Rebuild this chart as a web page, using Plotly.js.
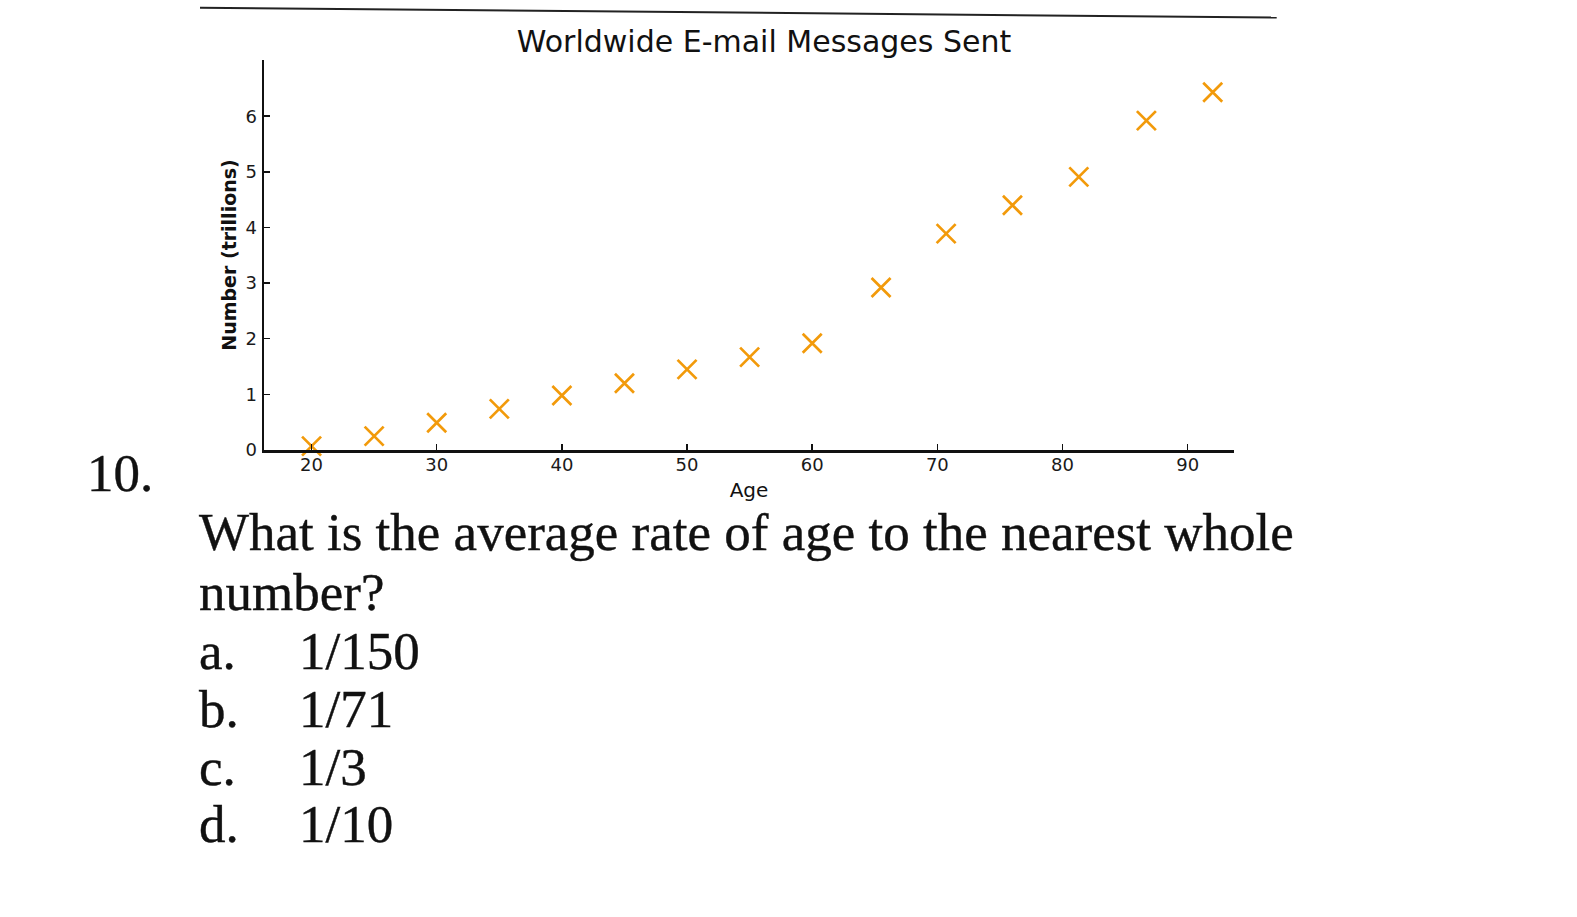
<!DOCTYPE html>
<html>
<head>
<meta charset="utf-8">
<script src="https://cdn.plot.ly/plotly-3.0.1.min.js"></script>
<style>
  html, body { margin:0; padding:0; background:#ffffff; }
  #chart { position:absolute; left:0; top:0; width:1577px; height:917px; }
  .q { position:absolute; font-family:"Liberation Serif","DejaVu Serif",serif; color:#111; font-size:53px; line-height:58px; white-space:nowrap; -webkit-text-stroke:0.4px #111; }
</style>
</head>
<body>
<div id="chart"></div>
<div class="q" style="left:87px; top:444px;">10.</div>
<div class="q" style="left:199px; top:503px;">What is the average rate of age to the nearest whole</div>
<div class="q" style="left:199px; top:563px;">number?</div>
<div class="q" style="left:199px; top:622px;">a.</div><div class="q" style="left:299px; top:622px;">1/150</div>
<div class="q" style="left:199px; top:680px;">b.</div><div class="q" style="left:299px; top:680px;">1/71</div>
<div class="q" style="left:199px; top:738px;">c.</div><div class="q" style="left:299px; top:738px;">1/3</div>
<div class="q" style="left:199px; top:795px;">d.</div><div class="q" style="left:299px; top:795px;">1/10</div>
<script>
const chartTitle = "Worldwide E-mail Messages Sent";
const xLabel = "Age";
const yLabel = "Number (trillions)";
const ages = [20, 25, 30, 35, 40, 45, 50, 55, 60, 65.5, 70.7, 76, 81.3, 86.7, 92];
const messages = [0.07, 0.25, 0.49, 0.74, 0.98, 1.2, 1.45, 1.67, 1.92, 2.92, 3.89, 4.4, 4.91, 5.92, 6.43];
const xTicks = [20, 30, 40, 50, 60, 70, 80, 90];
const yTicks = [0, 1, 2, 3, 4, 5, 6];

const trace = {
  type: "scatter",
  mode: "markers",
  x: ages,
  y: messages,
  marker: { symbol: "x-thin-open", size: 19, color: "#f29a0a", line: { color: "#f29a0a", width: 2.7 } },
  cliponaxis: false,
  hoverinfo: "x+y"
};

const layout = {
  width: 1577, height: 917,
  paper_bgcolor: "rgba(0,0,0,0)",
  plot_bgcolor: "rgba(0,0,0,0)",
  margin: { l: 264, r: 343, t: 60, b: 467, pad: 0 },
  showlegend: false,
  font: { family: "DejaVu Sans, sans-serif", color: "#111" },
  title: { text: chartTitle, font: { family: "DejaVu Sans, sans-serif", size: 30, color: "#111" },
           x: 0.4845, xanchor: "center", xref: "container", y: 0.955, yanchor: "middle", yref: "container" },
  xaxis: {
    range: [16.2, 93.7], tickvals: xTicks, ticktext: xTicks.map(String),
    showgrid: false, zeroline: false, showline: true, linecolor: "#111", linewidth: 3,
    ticks: "inside", ticklen: 6, tickwidth: 1.5, tickcolor: "#111",
    tickfont: { size: 18, color: "#1a1a1a" }, ticklabelstandoff: -4,
    title: { text: xLabel, font: { size: 20, color: "#111" }, standoff: 10 }
  },
  yaxis: {
    range: [0, 7.01], tickvals: yTicks, ticktext: yTicks.map(String),
    showgrid: false, zeroline: false, showline: true, linecolor: "#111", linewidth: 2.5,
    ticks: "inside", ticklen: 6, tickwidth: 1.5, tickcolor: "#111",
    tickfont: { size: 18, color: "#1a1a1a" }, ticklabelstandoff: 1,
    title: { text: "<b>" + yLabel + "</b>", font: { size: 19, color: "#111" }, standoff: 4 }
  },
  shapes: [
    { type: "line", xref: "paper", yref: "paper", x0: -0.066, y0: 1.134, x1: 1.044, y1: 1.109,
      line: { color: "#222", width: 2 } }
  ]
};

Plotly.newPlot("chart", [trace], layout, { displayModeBar: false, staticPlot: true });
</script>
</body>
</html>
